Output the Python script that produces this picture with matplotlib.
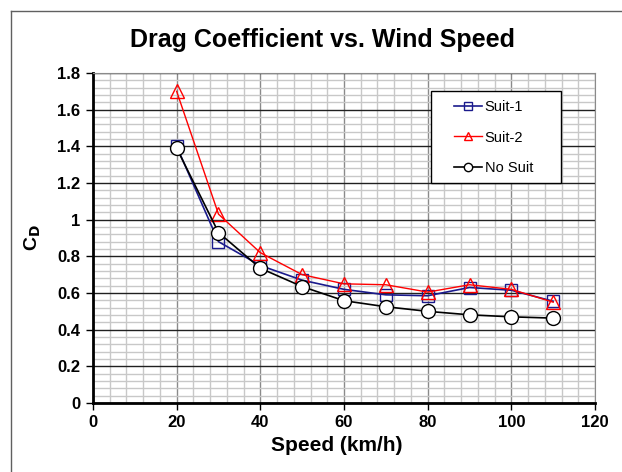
import matplotlib.pyplot as plt
from matplotlib.lines import Line2D
from matplotlib.patches import Rectangle
from matplotlib.ticker import MultipleLocator

# Velocidade do vento (km/h) e coeficientes de arrasto
speed = [20, 30, 40, 50, 60, 70, 80, 90, 100, 110]
suit_1 = [1.40, 0.88, 0.75, 0.67, 0.62, 0.59, 0.585, 0.63, 0.615, 0.555]
suit_2 = [1.70, 1.03, 0.82, 0.70, 0.65, 0.645, 0.605, 0.645, 0.62, 0.55]
no_suit = [1.39, 0.93, 0.735, 0.635, 0.558, 0.525, 0.50, 0.481, 0.47, 0.463]

plt.rcParams['font.family'] = ['Liberation Sans', 'DejaVu Sans']

fig = plt.figure(figsize=(6.22, 4.72), dpi=100)
ax = fig.add_axes([0.1495, 0.1462, 0.8071, 0.6991])

ax.plot(speed, suit_1, color='#1a1a8c', lw=1.2, marker='s', ms=9,
        mfc='none', mec='#1a1a8c', mew=1.0, label='Suit-1', zorder=3)
ax.plot(speed, suit_2, color='red', lw=1.0, marker='^', ms=10,
        mfc='none', mec='red', mew=1.0, label='Suit-2', zorder=4)
ax.plot(speed, no_suit, color='black', lw=1.2, marker='o', ms=10,
        mfc='white', mec='black', mew=1.0, label='No Suit', zorder=5)

ax.set_xlim(0, 120)
ax.set_ylim(0, 1.8)
ax.xaxis.set_major_locator(MultipleLocator(20))
ax.xaxis.set_minor_locator(MultipleLocator(4))
ax.yaxis.set_minor_locator(MultipleLocator(0.04))
ax.set_yticks([0, 0.2, 0.4, 0.6, 0.8, 1, 1.2, 1.4, 1.6, 1.8])
ax.set_yticklabels(['0', '0.2', '0.4', '0.6', '0.8', '1', '1.2', '1.4', '1.6', '1.8'])

ax.grid(which='minor', color='#c8c8c8', lw=1.0)
ax.grid(which='major', axis='x', color='#8a8a8a', lw=1.0)
ax.grid(which='major', axis='y', color='#202020', lw=1.0)
ax.set_axisbelow(True)

for side in ['top', 'right']:
    ax.spines[side].set_color('#8a8a8a')
for side in ['left', 'bottom']:
    ax.spines[side].set_linewidth(2)

ax.tick_params(which='major', direction='out', length=5, width=1,
               labelsize=12, pad=4)
ax.tick_params(which='minor', length=0)
for lab in ax.get_xticklabels() + ax.get_yticklabels():
    lab.set_fontweight('bold')

fig.text(322 / 622, 1 - 47 / 472, 'Drag Coefficient vs. Wind Speed',
         fontsize=18, fontweight='bold', ha='center', va='baseline')
ax.set_xlabel('Speed (km/h)', fontsize=15, fontweight='bold', x=0.486, labelpad=4)
ax.set_ylabel('C$_\\mathbf{D}$', fontsize=14, fontweight='bold', labelpad=10)

# caixa da legenda
ax.add_patch(Rectangle((0.673, 0.667), 0.259, 0.278, transform=ax.transAxes,
                       facecolor='white', edgecolor='black', lw=1.0, zorder=6))
leg = ax.legend(loc='center left', bbox_to_anchor=(0.719, 0.8045), fontsize=10.5,
                frameon=False, borderpad=0, borderaxespad=0,
                handlelength=1.9, labelspacing=1.15,
                handletextpad=0.2, markerscale=0.6)
leg.set_zorder(7)

# moldura do gráfico
fig.add_artist(Line2D([11 / 622, 11 / 622], [0, 1 - 11 / 472], color='#606060', lw=1))
fig.add_artist(Line2D([11 / 622, 1], [1 - 11 / 472, 1 - 11 / 472], color='#606060', lw=1))

fig.savefig('out.png', dpi=100)
